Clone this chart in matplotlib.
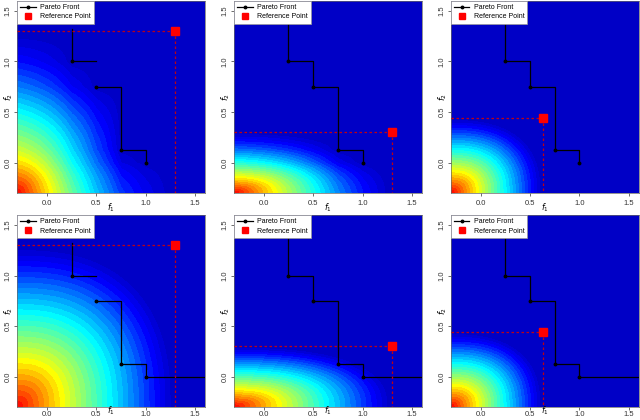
import numpy as np
import matplotlib.pyplot as plt
from matplotlib.colors import LinearSegmentedColormap

plt.rcParams['font.family'] = ['Liberation Sans', 'DejaVu Sans']

# Pareto front (f1, f2)
pareto_f1 = [0.25, 0.5, 0.75, 1.0]
pareto_f2 = [1.0, 0.75, 0.125, 0.0]

# reference points per panel (row-major)
ref_f1 = [1.3, 1.3, 0.63, 1.3, 1.3, 0.63]
ref_f2 = [1.3, 0.3, 0.44, 1.3, 0.3, 0.44]
# where the front line starts at the top, and whether it runs on to the right edge
front_top = [1.32, 1.6, 1.6, 1.32, 1.6, 1.6]
front_extend = [False, False, False, True, True, True]
front_gap = [True, False, False, True, False, False]
# how strongly the front dents the surface (top row only)
front_weight = [0.6, 0.6, 0.6, 0.0, 0.0, 0.0]
shape_p = 2.5

lim = (-0.3, 1.6)
ticks = [0.0, 0.5, 1.0, 1.5]
tick_labels = ['0.0', '0.5', '1.0', '1.5']

cmap = LinearSegmentedColormap.from_list(
    'jetish', [(0.0, '#0000BE'), (0.12, '#0000FF'), (0.42, '#00FFFF'),
               (0.72, '#FFFF00'), (1.0, '#FF0000')])


def hvi(X, Y, rx, ry):
    fx = np.array(pareto_f1)
    fy = np.array(pareto_f2)
    box = np.clip(rx - X, 0, None) * np.clip(ry - Y, 0, None)
    cx = [np.minimum(np.maximum(X, v), rx) for v in fx] + [np.full_like(X, rx)]
    cy = np.inf
    over = np.zeros_like(X)
    for i in range(len(fx)):
        cy = np.minimum(cy, np.maximum(Y, fy[i]))
        over += np.clip(cx[i + 1] - cx[i], 0, None) * np.clip(ry - cy, 0, None)
    return np.clip(box - over, 0, None), box


g = np.linspace(lim[0], lim[1], 400)
X, Y = np.meshgrid(g, g)

fig, axes = plt.subplots(2, 3, figsize=(6.4, 4.2), dpi=100)
fig.subplots_adjust(left=0.027, right=0.998, top=0.998, bottom=0.031,
                    wspace=0.155, hspace=0.115)

for k, ax in enumerate(axes.flat):
    rx, ry = ref_f1[k], ref_f2[k]
    a = np.clip((X - lim[0]) / (rx - lim[0]), 0, None)
    b = np.clip((Y - lim[0]) / (ry - lim[0]), 0, None)
    S = np.clip(1 - (a ** shape_p + b ** shape_p) ** (1 / shape_p), 0, 1)
    if front_weight[k] > 0:
        H, box = hvi(X, Y, rx, ry)
        r = np.where(box > 0, H / np.where(box > 0, box, 1), 0)
        S = S * (r / r.max()) ** front_weight[k]
    Z = S / S.max()
    ax.contourf(X, Y, Z, levels=np.linspace(0, 1.0001, 31), cmap=cmap)

    # staircase front
    sx = [pareto_f1[0]]
    sy = [front_top[k]]
    for i in range(len(pareto_f1)):
        sx.append(pareto_f1[i])
        sy.append(pareto_f2[i])
        if i + 1 < len(pareto_f1):
            sx.append(pareto_f1[i + 1])
            sy.append(pareto_f2[i])
            if front_gap[k] and i == 0:
                sx.append(np.nan)
                sy.append(np.nan)
    if front_extend[k]:
        sx.append(lim[1])
        sy.append(pareto_f2[-1])
    ax.plot(sx, sy, color='black', lw=0.9, zorder=3)
    ax.plot(pareto_f1, pareto_f2, 'o', color='black', ms=1.8, zorder=3)

    # reference point with dashed guides
    ax.plot([lim[0], rx], [ry, ry], color='#C00010', lw=0.9, ls=(0, (2, 2)), zorder=3)
    ax.plot([rx, rx], [ry, lim[0]], color='#C00010', lw=0.9, ls=(0, (2, 2)), zorder=3)
    ax.plot(rx, ry, 's', color='#FF0000', ms=5.5, zorder=4)

    h1, = ax.plot([], [], color='black', lw=0.9, marker='o', ms=1.8, label='Pareto Front')
    h2, = ax.plot([], [], 's', color='#FF0000', ms=4, label='Reference Point')
    leg = ax.legend(handles=[h1, h2], loc='upper left', fontsize=5, frameon=True,
                    fancybox=False, framealpha=1, edgecolor='#999999',
                    borderaxespad=0.0, borderpad=0.45, handlelength=2.2,
                    handletextpad=0.6, labelspacing=0.35)
    leg.get_frame().set_linewidth(0.5)

    ax.set_xlim(lim)
    ax.set_ylim(lim)
    ax.set_xticks(ticks)
    ax.set_yticks(ticks)
    ax.set_xticklabels(tick_labels)
    ax.set_yticklabels(tick_labels, rotation=90, va='center')
    bottom_row = k >= 3
    ax.tick_params(labelsize=5.5, length=2.5, width=0.5, colors='#333333')
    ax.tick_params(axis='x', pad=0.5 if bottom_row else 2.5)
    ax.tick_params(axis='y', pad=1.5)
    for s in ax.spines.values():
        s.set_linewidth(0.5)
        s.set_color('#666666')
    ax.text(0.5, -0.022 if bottom_row else -0.045, '$f_1$', transform=ax.transAxes,
            ha='center', va='center' if bottom_row else 'top', fontsize=5.8)
    ax.text(-0.043, 0.5, '$f_2$', transform=ax.transAxes, ha='center', va='center',
            rotation=90, fontsize=6)

plt.savefig('out.png', dpi=100)
